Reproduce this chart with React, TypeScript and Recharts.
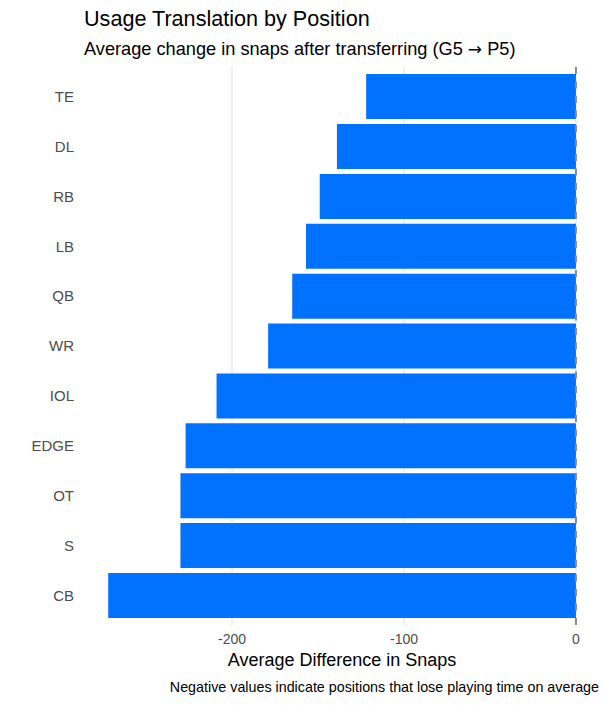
import React from 'react';
import { BarChart, Bar, XAxis, YAxis, CartesianGrid, ReferenceLine } from 'recharts';

const positions = ['TE', 'DL', 'RB', 'LB', 'QB', 'WR', 'IOL', 'EDGE', 'OT', 'S', 'CB'];
const avgDiff = [-122, -139, -149, -157, -165, -179, -209, -227, -230, -230, -272];
const xTicks = [-200, -100, 0];

const data = positions.map((p, i) => ({ pos: p, diff: avgDiff[i] }));

const FONT = '"Liberation Sans", Arial, Helvetica, sans-serif';

export default function App() {
  return (
    <div style={{ position: 'absolute', left: 0, top: 0, width: 609, height: 705, background: '#fff', fontFamily: FONT }}>
      <BarChart
        width={609}
        height={705}
        data={data}
        layout="vertical"
        margin={{ top: 67, right: 10, bottom: 50, left: 0 }}
        barCategoryGap="5%"
      >
        <CartesianGrid
          horizontal={false}
          vertical={true}
          verticalValues={xTicks}
          stroke="#ebebeb"
          strokeWidth={1.5}
        />
        <XAxis
          type="number"
          dataKey="diff"
          domain={[-285.5, 13.4]}
          allowDataOverflow
          ticks={xTicks}
          axisLine={false}
          tickLine={false}
          tickSize={0}
          tickMargin={9}
          height={30}
          tick={{ fill: '#4d4d4d', fontSize: 14, fontFamily: FONT }}
        />
        <YAxis
          type="category"
          dataKey="pos"
          width={85}
          axisLine={false}
          tickLine={false}
          tickSize={0}
          tickMargin={11}
          padding={{ top: 4.6, bottom: 4.6 }}
          tick={{ fill: '#4d4d4d', fontSize: 15, fontFamily: FONT }}
        />
        <Bar dataKey="diff" fill="#0072ff" isAnimationActive={false} />
        <ReferenceLine x={0} stroke="#8a8a8a" strokeWidth={2} strokeDasharray="7 7.5" />
      </BarChart>
      <svg width={609} height={705} style={{ position: 'absolute', left: 0, top: 0, pointerEvents: 'none' }}>
        <text x={84} y={26} fontSize={21.6} fill="#000" fontFamily={FONT}>Usage Translation by Position</text>
        <text x={84} y={54.5} fontSize={18.2} fill="#000" fontFamily={FONT}>
          Average change in snaps after transferring (G5 <tspan fontFamily='"DejaVu Sans"' fontSize={17}>→</tspan> P5)
        </text>
        <text x={342} y={666} fontSize={18} fill="#000" textAnchor="middle" fontFamily={FONT}>Average Difference in Snaps</text>
        <text x={599} y={692} fontSize={14.3} fill="#000" textAnchor="end" fontFamily={FONT}>Negative values indicate positions that lose playing time on average</text>
      </svg>
    </div>
  );
}
